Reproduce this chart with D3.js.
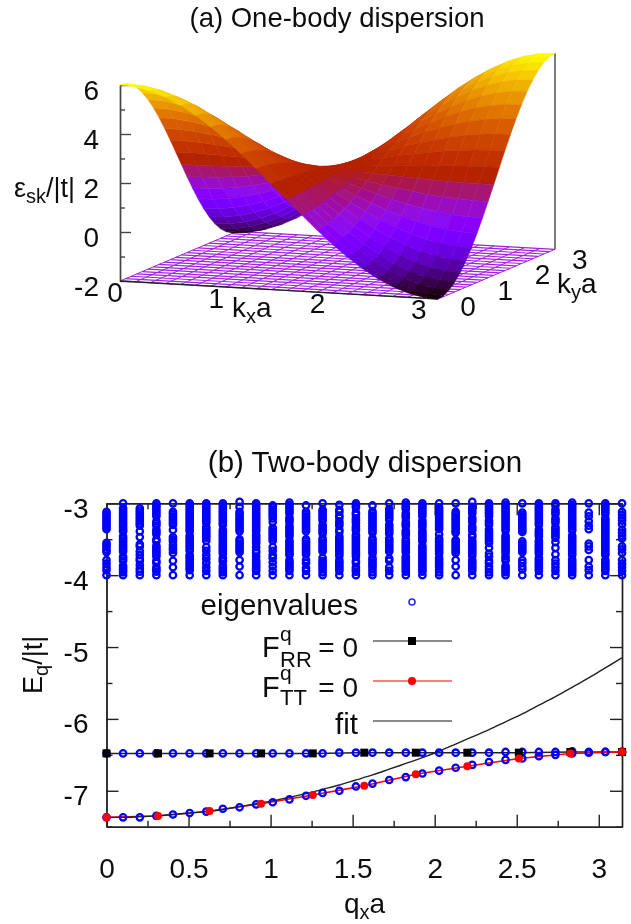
<!DOCTYPE html>
<html>
<head>
<meta charset="utf-8">
<script src="https://cdn.jsdelivr.net/npm/d3@7"></script>
<style>
  html, body { margin: 0; padding: 0; background: #fff; }
  text { font-family: "Liberation Sans", sans-serif; fill: #111; }
</style>
</head>
<body>
<div id="chart"></div>
<script>
// panel (a) data: grid of kx, ky values and the energy at each grid point
var kGrid = [0, 0.15, 0.299, 0.449, 0.598, 0.748, 0.898, 1.047, 1.197, 1.346, 1.496, 1.646, 1.795, 1.945, 2.094, 2.244, 2.394, 2.543, 2.693, 2.843, 2.992, 3.142];
var surfaceZ = [
  [6, 5.96, 5.82, 5.60, 5.30, 4.93, 4.49, 4, 3.46, 2.89, 2.30, 1.70, 1.11, 0.54, 0, -0.49, -0.93, -1.30, -1.60, -1.82, -1.96, -2],
  [5.96, 5.91, 5.78, 5.56, 5.27, 4.90, 4.47, 3.98, 3.45, 2.88, 2.30, 1.70, 1.12, 0.55, 0.02, -0.47, -0.90, -1.27, -1.56, -1.78, -1.91, -1.96],
  [5.82, 5.78, 5.65, 5.44, 5.16, 4.80, 4.38, 3.91, 3.40, 2.85, 2.29, 1.71, 1.15, 0.60, 0.09, -0.38, -0.80, -1.16, -1.44, -1.65, -1.78, -1.82],
  [5.60, 5.56, 5.44, 5.25, 4.98, 4.64, 4.25, 3.80, 3.32, 2.80, 2.27, 1.73, 1.20, 0.68, 0.20, -0.25, -0.64, -0.98, -1.25, -1.44, -1.56, -1.60],
  [5.30, 5.27, 5.16, 4.98, 4.73, 4.42, 4.06, 3.65, 3.21, 2.74, 2.25, 1.75, 1.26, 0.79, 0.35, -0.06, -0.42, -0.73, -0.98, -1.16, -1.27, -1.30],
  [4.93, 4.90, 4.80, 4.64, 4.42, 4.15, 3.83, 3.47, 3.07, 2.65, 2.22, 1.78, 1.35, 0.93, 0.53, 0.17, -0.15, -0.42, -0.64, -0.80, -0.90, -0.93],
  [4.49, 4.47, 4.38, 4.25, 4.06, 3.83, 3.55, 3.25, 2.91, 2.55, 2.19, 1.81, 1.45, 1.09, 0.75, 0.45, 0.17, -0.06, -0.25, -0.38, -0.47, -0.49],
  [4, 3.98, 3.91, 3.80, 3.65, 3.47, 3.25, 3, 2.73, 2.45, 2.15, 1.85, 1.55, 1.27, 1, 0.75, 0.53, 0.35, 0.20, 0.09, 0.02, 0],
  [3.46, 3.45, 3.40, 3.32, 3.21, 3.07, 2.91, 2.73, 2.53, 2.33, 2.11, 1.89, 1.67, 1.47, 1.27, 1.09, 0.93, 0.79, 0.68, 0.60, 0.55, 0.54],
  [2.89, 2.88, 2.85, 2.80, 2.74, 2.65, 2.55, 2.45, 2.33, 2.20, 2.07, 1.93, 1.80, 1.67, 1.55, 1.45, 1.35, 1.26, 1.20, 1.15, 1.12, 1.11],
  [2.30, 2.30, 2.29, 2.27, 2.25, 2.22, 2.19, 2.15, 2.11, 2.07, 2.02, 1.98, 1.93, 1.89, 1.85, 1.81, 1.78, 1.75, 1.73, 1.71, 1.70, 1.70],
  [1.70, 1.70, 1.71, 1.73, 1.75, 1.78, 1.81, 1.85, 1.89, 1.93, 1.98, 2.02, 2.07, 2.11, 2.15, 2.19, 2.22, 2.25, 2.27, 2.29, 2.30, 2.30],
  [1.11, 1.12, 1.15, 1.20, 1.26, 1.35, 1.45, 1.55, 1.67, 1.80, 1.93, 2.07, 2.20, 2.33, 2.45, 2.55, 2.65, 2.74, 2.80, 2.85, 2.88, 2.89],
  [0.54, 0.55, 0.60, 0.68, 0.79, 0.93, 1.09, 1.27, 1.47, 1.67, 1.89, 2.11, 2.33, 2.53, 2.73, 2.91, 3.07, 3.21, 3.32, 3.40, 3.45, 3.46],
  [0, 0.02, 0.09, 0.20, 0.35, 0.53, 0.75, 1, 1.27, 1.55, 1.85, 2.15, 2.45, 2.73, 3, 3.25, 3.47, 3.65, 3.80, 3.91, 3.98, 4],
  [-0.49, -0.47, -0.38, -0.25, -0.06, 0.17, 0.45, 0.75, 1.09, 1.45, 1.81, 2.19, 2.55, 2.91, 3.25, 3.55, 3.83, 4.06, 4.25, 4.38, 4.47, 4.49],
  [-0.93, -0.90, -0.80, -0.64, -0.42, -0.15, 0.17, 0.53, 0.93, 1.35, 1.78, 2.22, 2.65, 3.07, 3.47, 3.83, 4.15, 4.42, 4.64, 4.80, 4.90, 4.93],
  [-1.30, -1.27, -1.16, -0.98, -0.73, -0.42, -0.06, 0.35, 0.79, 1.26, 1.75, 2.25, 2.74, 3.21, 3.65, 4.06, 4.42, 4.73, 4.98, 5.16, 5.27, 5.30],
  [-1.60, -1.56, -1.44, -1.25, -0.98, -0.64, -0.25, 0.20, 0.68, 1.20, 1.73, 2.27, 2.80, 3.32, 3.80, 4.25, 4.64, 4.98, 5.25, 5.44, 5.56, 5.60],
  [-1.82, -1.78, -1.65, -1.44, -1.16, -0.80, -0.38, 0.09, 0.60, 1.15, 1.71, 2.29, 2.85, 3.40, 3.91, 4.38, 4.80, 5.16, 5.44, 5.65, 5.78, 5.82],
  [-1.96, -1.91, -1.78, -1.56, -1.27, -0.90, -0.47, 0.02, 0.55, 1.12, 1.70, 2.30, 2.88, 3.45, 3.98, 4.47, 4.90, 5.27, 5.56, 5.78, 5.91, 5.96],
  [-2, -1.96, -1.82, -1.60, -1.30, -0.93, -0.49, 0, 0.54, 1.11, 1.70, 2.30, 2.89, 3.46, 4, 4.49, 4.93, 5.30, 5.60, 5.82, 5.96, 6]
];
var zMajor = [-2, 0, 2, 4, 6];
var zMinor = [-1, 1, 3, 5];
var kTicks = [0, 1, 2, 3];

// panel (b) data
var eigenQ = [0, 0.101, 0.203, 0.304, 0.405, 0.507, 0.608, 0.709, 0.811, 0.912, 1.013, 1.115, 1.216, 1.317, 1.419, 1.52, 1.621, 1.723, 1.824, 1.925, 2.027, 2.128, 2.229, 2.331, 2.432, 2.534, 2.635, 2.736, 2.838, 2.939, 3.04, 3.142];
var eigenBands = [
  [-3.12,-3.15,-3.18,-3.21,-3.24,-3.27,-3.30,-3.33,-3.36,-3.55,-3.58,-3.61,-3.65,-3.68,-3.79,-3.84,-3.89,-3.93,-4.00],
  [-3.00,-3.07,-3.10,-3.13,-3.16,-3.19,-3.22,-3.25,-3.28,-3.31,-3.34,-3.37,-3.39,-3.46,-3.49,-3.52,-3.55,-3.58,-3.61,-3.64,-3.67,-3.74,-3.77,-3.80,-3.87,-3.90,-3.93,-3.96,-4.00],
  [-3.07,-3.10,-3.13,-3.16,-3.19,-3.22,-3.25,-3.28,-3.31,-3.39,-3.47,-3.57,-3.60,-3.67,-3.72,-3.77,-3.80,-3.86,-3.91,-3.95,-4.00],
  [-3.00,-3.03,-3.06,-3.09,-3.12,-3.15,-3.18,-3.25,-3.28,-3.31,-3.37,-3.40,-3.43,-3.50,-3.53,-3.59,-3.62,-3.65,-3.68,-3.71,-3.74,-3.80,-3.83,-3.89,-3.92,-3.95,-4.00],
  [-3.00,-3.12,-3.15,-3.18,-3.21,-3.24,-3.27,-3.30,-3.37,-3.47,-3.50,-3.53,-3.58,-3.62,-3.65,-3.69,-3.80,-3.89,-4.00],
  [-3.00,-3.03,-3.06,-3.09,-3.12,-3.15,-3.18,-3.21,-3.24,-3.27,-3.30,-3.33,-3.36,-3.39,-3.45,-3.48,-3.51,-3.54,-3.57,-3.60,-3.63,-3.66,-3.72,-3.75,-3.78,-3.81,-3.84,-3.87,-3.90,-3.93,-4.00],
  [-3.00,-3.03,-3.06,-3.09,-3.12,-3.15,-3.18,-3.21,-3.24,-3.27,-3.33,-3.36,-3.39,-3.42,-3.45,-3.48,-3.52,-3.61,-3.66,-3.72,-3.77,-3.83,-3.89,-3.94,-4.00],
  [-3.00,-3.03,-3.06,-3.09,-3.12,-3.15,-3.18,-3.21,-3.24,-3.27,-3.30,-3.37,-3.40,-3.43,-3.46,-3.49,-3.52,-3.55,-3.58,-3.61,-3.64,-3.67,-3.70,-3.76,-3.79,-3.81,-3.87,-3.90,-3.93,-3.96,-4.00],
  [-2.98,-3.05,-3.12,-3.15,-3.18,-3.21,-3.24,-3.27,-3.30,-3.33,-3.36,-3.39,-3.50,-3.53,-3.56,-3.59,-3.62,-3.65,-3.68,-3.79,-3.88,-4.00],
  [-3.00,-3.03,-3.06,-3.09,-3.12,-3.15,-3.18,-3.21,-3.24,-3.27,-3.30,-3.33,-3.36,-3.39,-3.44,-3.47,-3.50,-3.53,-3.56,-3.61,-3.66,-3.69,-3.74,-3.79,-3.82,-3.85,-3.88,-3.91,-3.94,-4.00],
  [-3.03,-3.06,-3.09,-3.12,-3.15,-3.18,-3.21,-3.26,-3.34,-3.37,-3.40,-3.43,-3.46,-3.49,-3.52,-3.61,-3.66,-3.72,-3.76,-3.82,-3.88,-3.94,-4.00],
  [-2.99,-3.02,-3.05,-3.08,-3.11,-3.14,-3.20,-3.23,-3.26,-3.31,-3.34,-3.37,-3.40,-3.43,-3.46,-3.52,-3.55,-3.58,-3.61,-3.64,-3.67,-3.70,-3.72,-3.79,-3.82,-3.85,-3.88,-3.91,-3.94,-4.00],
  [-3.03,-3.12,-3.15,-3.18,-3.21,-3.24,-3.27,-3.30,-3.33,-3.36,-3.39,-3.50,-3.53,-3.56,-3.59,-3.62,-3.65,-3.68,-3.71,-3.79,-3.83,-3.90,-3.94,-4.00],
  [-3.00,-3.09,-3.12,-3.15,-3.18,-3.21,-3.24,-3.30,-3.33,-3.36,-3.39,-3.42,-3.49,-3.52,-3.55,-3.58,-3.61,-3.64,-3.67,-3.76,-3.80,-3.83,-3.86,-3.89,-3.92,-3.96,-4.00],
  [-3.02,-3.09,-3.12,-3.17,-3.20,-3.25,-3.28,-3.31,-3.37,-3.40,-3.46,-3.49,-3.52,-3.55,-3.58,-3.61,-3.64,-3.67,-3.70,-3.73,-3.79,-3.82,-3.85,-3.88,-3.91,-3.94,-4.00],
  [-3.00,-3.03,-3.06,-3.13,-3.16,-3.21,-3.24,-3.27,-3.32,-3.35,-3.38,-3.44,-3.47,-3.50,-3.53,-3.56,-3.59,-3.62,-3.65,-3.68,-3.71,-3.74,-3.80,-3.83,-3.89,-3.92,-3.95,-4.00],
  [-3.03,-3.11,-3.14,-3.17,-3.20,-3.23,-3.26,-3.29,-3.32,-3.35,-3.38,-3.41,-3.49,-3.52,-3.55,-3.58,-3.61,-3.64,-3.67,-3.70,-3.76,-3.79,-3.82,-3.85,-3.88,-3.92,-3.96,-4.00],
  [-3.00,-3.08,-3.11,-3.14,-3.17,-3.20,-3.23,-3.30,-3.33,-3.36,-3.39,-3.42,-3.49,-3.52,-3.55,-3.58,-3.61,-3.64,-3.67,-3.77,-3.80,-3.89,-3.94,-4.00],
  [-2.99,-3.02,-3.05,-3.08,-3.14,-3.17,-3.20,-3.26,-3.29,-3.32,-3.38,-3.41,-3.44,-3.50,-3.53,-3.56,-3.59,-3.62,-3.65,-3.68,-3.74,-3.77,-3.80,-3.83,-3.86,-3.89,-3.92,-3.95,-4.00],
  [-3.00,-3.03,-3.06,-3.09,-3.12,-3.15,-3.18,-3.24,-3.27,-3.30,-3.33,-3.38,-3.41,-3.44,-3.47,-3.50,-3.53,-3.59,-3.62,-3.65,-3.68,-3.71,-3.74,-3.77,-3.80,-3.83,-3.86,-3.89,-3.92,-3.95,-4.00],
  [-3.00,-3.06,-3.09,-3.12,-3.15,-3.18,-3.21,-3.24,-3.27,-3.30,-3.33,-3.36,-3.43,-3.49,-3.52,-3.55,-3.58,-3.61,-3.64,-3.67,-3.70,-3.76,-3.79,-3.82,-3.85,-3.88,-3.92,-3.96,-4.00],
  [-3.00,-3.12,-3.15,-3.18,-3.21,-3.24,-3.27,-3.30,-3.33,-3.36,-3.39,-3.41,-3.51,-3.54,-3.57,-3.60,-3.63,-3.66,-3.69,-3.79,-3.88,-4.00],
  [-2.98,-3.05,-3.08,-3.11,-3.14,-3.20,-3.23,-3.26,-3.32,-3.35,-3.38,-3.44,-3.47,-3.52,-3.55,-3.58,-3.61,-3.64,-3.67,-3.70,-3.73,-3.79,-3.82,-3.85,-3.88,-3.91,-3.94,-4.00],
  [-3.00,-3.03,-3.06,-3.09,-3.12,-3.15,-3.18,-3.24,-3.27,-3.30,-3.37,-3.40,-3.43,-3.46,-3.49,-3.52,-3.55,-3.62,-3.70,-3.74,-3.80,-3.83,-3.88,-3.92,-3.96,-4.00],
  [-2.99,-3.02,-3.05,-3.08,-3.11,-3.14,-3.17,-3.20,-3.23,-3.26,-3.29,-3.32,-3.35,-3.38,-3.45,-3.48,-3.51,-3.54,-3.57,-3.60,-3.63,-3.66,-3.69,-3.74,-3.77,-3.80,-3.87,-3.90,-3.93,-3.96,-4.00],
  [-3.00,-3.13,-3.16,-3.19,-3.22,-3.25,-3.28,-3.31,-3.34,-3.37,-3.40,-3.53,-3.56,-3.59,-3.62,-3.65,-3.68,-3.79,-3.83,-3.88,-3.92,-4.00],
  [-3.00,-3.03,-3.06,-3.09,-3.12,-3.15,-3.18,-3.21,-3.24,-3.27,-3.30,-3.37,-3.40,-3.43,-3.46,-3.52,-3.55,-3.58,-3.61,-3.64,-3.67,-3.70,-3.76,-3.79,-3.82,-3.85,-3.88,-3.91,-3.94,-4.00],
  [-3.00,-3.03,-3.09,-3.12,-3.15,-3.21,-3.24,-3.27,-3.33,-3.36,-3.39,-3.42,-3.45,-3.48,-3.54,-3.62,-3.71,-3.79,-3.84,-3.89,-3.94,-4.00],
  [-2.99,-3.02,-3.05,-3.08,-3.11,-3.14,-3.17,-3.20,-3.23,-3.26,-3.29,-3.32,-3.35,-3.38,-3.45,-3.48,-3.51,-3.54,-3.57,-3.60,-3.63,-3.66,-3.69,-3.72,-3.78,-3.81,-3.84,-3.87,-3.90,-3.93,-3.96,-4.00],
  [-3.00,-3.13,-3.18,-3.25,-3.31,-3.36,-3.56,-3.60,-3.65,-3.79,-3.88,-3.93,-4.00],
  [-3.00,-3.03,-3.06,-3.09,-3.12,-3.15,-3.21,-3.24,-3.27,-3.30,-3.33,-3.36,-3.39,-3.42,-3.45,-3.48,-3.51,-3.54,-3.57,-3.60,-3.63,-3.66,-3.69,-3.72,-3.79,-3.82,-3.85,-3.88,-3.91,-3.94,-4.00],
  [-3.00,-3.12,-3.16,-3.20,-3.24,-3.29,-3.37,-3.41,-3.45,-3.49,-3.60,-3.64,-3.69,-3.79,-3.84,-3.89,-3.94,-4.00]
];
var upperEigen = [-6.48, -6.48, -6.48, -6.48, -6.48, -6.48, -6.48, -6.48, -6.48, -6.48, -6.48, -6.48, -6.48, -6.48, -6.47, -6.47, -6.47, -6.47, -6.47, -6.47, -6.47, -6.47, -6.47, -6.47, -6.46, -6.46, -6.46, -6.46, -6.45, -6.46, -6.46, -6.46];
var lowerEigen = [-7.37, -7.37, -7.37, -7.35, -7.33, -7.31, -7.29, -7.25, -7.23, -7.19, -7.16, -7.12, -7.07, -7.03, -7.00, -6.94, -6.90, -6.85, -6.81, -6.76, -6.72, -6.68, -6.64, -6.60, -6.57, -6.55, -6.52, -6.50, -6.48, -6.47, -6.46, -6.46];
var lineQ = [0, 0.314, 0.628, 0.942, 1.257, 1.571, 1.885, 2.199, 2.513, 2.827, 3.142];
var rrValues = [-6.48, -6.48, -6.48, -6.48, -6.48, -6.47, -6.47, -6.47, -6.47, -6.46, -6.46];
var ttValues = [-7.37, -7.35, -7.28, -7.18, -7.06, -6.93, -6.77, -6.66, -6.55, -6.48, -6.46];
var fitValues = [-7.37, -7.37, -7.36, -7.35, -7.33, -7.31, -7.29, -7.26, -7.22, -7.18, -7.14, -7.09, -7.04, -6.98, -6.92, -6.85, -6.78, -6.70, -6.62, -6.54, -6.45, -6.35, -6.25, -6.15, -6.04, -5.93, -5.81, -5.69, -5.56, -5.43, -5.29, -5.15];
var yMajor = [-3, -4, -5, -6, -7];
var yMinor = [-3.5, -4.5, -5.5, -6.5, -7.5];
var xMajor = [0, 0.5, 1, 1.5, 2, 2.5, 3];
var xMinor = [0.25, 0.75, 1.25, 1.75, 2.25, 2.75];

var width = 631, height = 924;
var svg = d3.select('#chart').append('svg')
    .attr('width', width)
    .attr('height', height)
    .style('display', 'block');

// the reference is a slightly soft raster
svg.append('defs').append('filter').attr('id', 'soft')
    .append('feGaussianBlur').attr('stdDeviation', 0.5);
var root = svg.append('g').attr('filter', 'url(#soft)');

// adds a text with sub/superscript pieces: parts = [[string, size, baselineShift], ...]
function richText(parent, x, y, parts, anchor) {
    var t = parent.append('text')
        .attr('x', x)
        .attr('y', y)
        .attr('text-anchor', anchor || 'start');
    var shift = 0;
    parts.forEach(function(p) {
        t.append('tspan')
            .attr('font-size', p[1])
            .attr('dy', p[2] - shift)
            .text(p[0]);
        shift = p[2];
    });
    return t;
}

function label(parent, x, y, str, size, anchor) {
    return parent.append('text')
        .attr('x', x)
        .attr('y', y)
        .attr('font-size', size)
        .attr('text-anchor', anchor || 'middle')
        .text(str);
}

// ---------- (a) one-body dispersion ----------
var a = root.append('g');
var A = [120, 281], B = [438, 299], C = [555, 249.3];

// oblique projection of the box, one scale per direction
var kxX = d3.scaleLinear().domain([0, Math.PI]).range([0, B[0] - A[0]]);
var kxY = d3.scaleLinear().domain([0, Math.PI]).range([0, B[1] - A[1]]);
var kyX = d3.scaleLinear().domain([0, Math.PI]).range([0, C[0] - B[0]]);
var kyY = d3.scaleLinear().domain([0, Math.PI]).range([0, C[1] - B[1]]);
var zScale = d3.scaleLinear().domain([-2, 6]).range([0, -196]);

function project(kx, ky, z) {
    return [A[0] + kxX(kx) + kyX(ky), A[1] + kxY(kx) + kyY(ky) + zScale(z)];
}

// gnuplot default pm3d palette (7,5,15)
function palette(z) {
    var g = (z + 2) / 8;
    var r = Math.sqrt(g), gr = g * g * g, b = Math.max(0, Math.sin(2 * Math.PI * g));
    return d3.rgb(r * 255, gr * 255, b * 255).formatHex();
}

// floor of the box
var baseLines = [];
kGrid.forEach(function(k) {
    baseLines.push({ p: [project(k, 0, -2), project(k, Math.PI, -2)], w: 1 });
    baseLines.push({ p: [project(0, k, -2), project(Math.PI, k, -2)], w: 1.2 });
});
a.append('g').selectAll('line')
    .data(baseLines)
    .enter()
    .append('line')
    .attr('x1', function(d) { return d.p[0][0]; })
    .attr('y1', function(d) { return d.p[0][1]; })
    .attr('x2', function(d) { return d.p[1][0]; })
    .attr('y2', function(d) { return d.p[1][1]; })
    .attr('stroke', '#a020e0')
    .attr('stroke-width', function(d) { return d.w; });

// z axis
var zAxisScale = d3.scaleLinear().domain([-2, 6]).range([A[1], A[1] - 196]);
var zAxisG = a.append('g').attr('transform', 'translate(' + A[0] + ',0)');
zAxisG.call(d3.axisLeft(zAxisScale).tickValues(zMajor).tickSizeInner(-11).tickSizeOuter(0).tickPadding(21).tickFormat(String));
var zMinorG = a.append('g').attr('transform', 'translate(' + A[0] + ',0)');
zMinorG.call(d3.axisLeft(zAxisScale).tickValues(zMinor).tickSizeInner(-5).tickSizeOuter(0).tickFormat(''));
[zAxisG, zMinorG].forEach(function(g) {
    g.selectAll('line,path').attr('stroke', '#444').attr('stroke-width', 1.4);
});
zAxisG.selectAll('text')
    .attr('font-size', 28)
    .attr('font-family', '"Liberation Sans", sans-serif')
    .attr('dy', '0.52em');

// back right corner post and front edge
a.append('line')
    .attr('x1', C[0]).attr('y1', C[1])
    .attr('x2', C[0]).attr('y2', C[1] - 196)
    .attr('stroke', '#444').attr('stroke-width', 1.4);
a.append('line')
    .attr('x1', A[0]).attr('y1', A[1])
    .attr('x2', B[0]).attr('y2', B[1])
    .attr('stroke', '#222').attr('stroke-width', 1.4);

// surface cells, far ky rows first and left to right inside a row
var cells = [];
for (var j = kGrid.length - 2; j >= 0; j--) {
    for (var i = 0; i < kGrid.length - 1; i++) {
        var zMean = (surfaceZ[i][j] + surfaceZ[i + 1][j] + surfaceZ[i + 1][j + 1] + surfaceZ[i][j + 1]) / 4;
        cells.push({
            pts: [
                project(kGrid[i], kGrid[j], surfaceZ[i][j]),
                project(kGrid[i + 1], kGrid[j], surfaceZ[i + 1][j]),
                project(kGrid[i + 1], kGrid[j + 1], surfaceZ[i + 1][j + 1]),
                project(kGrid[i], kGrid[j + 1], surfaceZ[i][j + 1])
            ],
            z: zMean
        });
    }
}
a.append('g').selectAll('polygon')
    .data(cells)
    .enter()
    .append('polygon')
    .attr('points', function(d) { return d.pts.map(function(p) { return p.join(','); }).join(' '); })
    .attr('fill', function(d) { return palette(d.z); })
    .attr('stroke', function(d) { return palette(d.z); })
    .attr('stroke-width', 0.5);

// box labels
kTicks.forEach(function(k) {
    var p = project(k, 0, -2);
    label(a, p[0] - 5, p[1] + 21, String(k), 28);
    var q = project(Math.PI, k, -2);
    label(a, q[0] + 30, q[1] + 17, String(k), 28);
});
label(a, 337, 27, '(a) One-body dispersion', 27.5);
richText(a, 232, 317, [['k', 28, 0], ['x', 20, 6], ['a', 28, 0]]);
richText(a, 557, 293, [['k', 28, 0], ['y', 20, 6], ['a', 28, 0]]);
richText(a, 14, 197, [['ε', 27, 0], ['sk', 20, 6], ['/|t|', 27, 0]]);

// ---------- (b) two-body dispersion ----------
var b = root.append('g');
var x = d3.scaleLinear().domain([0, Math.PI]).range([106.5, 622]);
var y = d3.scaleLinear().domain([-7.5, -3]).range([826.7, 503.3]);

var xAxisB = b.append('g').attr('transform', 'translate(0,' + y(-7.5) + ')');
xAxisB.call(d3.axisBottom(x).tickValues(xMajor).tickSizeInner(-12).tickSizeOuter(0).tickPadding(41).tickFormat(String));
xAxisB.selectAll('text').attr('font-size', 28).attr('font-family', '"Liberation Sans", sans-serif').attr('dy', '0.36em');
var yAxisB = b.append('g').attr('transform', 'translate(' + x(0) + ',0)');
yAxisB.call(d3.axisLeft(y).tickValues(yMajor).tickSizeInner(-12).tickSizeOuter(0).tickPadding(18).tickFormat(String));
yAxisB.selectAll('text').attr('font-size', 28).attr('font-family', '"Liberation Sans", sans-serif').attr('dy', '0.5em');

var frameParts = [
    [d3.axisBottom(x).tickValues(xMinor).tickSizeInner(-6).tickSizeOuter(0).tickFormat(''), 0, y(-7.5)],
    [d3.axisTop(x).tickValues(xMajor).tickSizeInner(-12).tickSizeOuter(0).tickFormat(''), 0, y(-3)],
    [d3.axisTop(x).tickValues(xMinor).tickSizeInner(-6).tickSizeOuter(0).tickFormat(''), 0, y(-3)],
    [d3.axisLeft(y).tickValues(yMinor).tickSizeInner(-6).tickSizeOuter(0).tickFormat(''), x(0), 0],
    [d3.axisRight(y).tickValues(yMajor).tickSizeInner(-12).tickSizeOuter(0).tickFormat(''), x(Math.PI), 0],
    [d3.axisRight(y).tickValues(yMinor).tickSizeInner(-6).tickSizeOuter(0).tickFormat(''), x(Math.PI), 0]
];
frameParts.forEach(function(f) {
    b.append('g').attr('class', 'frame').attr('transform', 'translate(' + f[1] + ',' + f[2] + ')').call(f[0]);
});
b.selectAll('line,path').attr('stroke', '#222').attr('stroke-width', 1.4);

var blueRings = [];
eigenBands.forEach(function(col, c) {
    col.forEach(function(v) { blueRings.push([eigenQ[c], v]); });
    blueRings.push([eigenQ[c], upperEigen[c]]);
    blueRings.push([eigenQ[c], lowerEigen[c]]);
});

var rrData = lineQ.map(function(q, n) { return [q, rrValues[n]]; });
var ttData = lineQ.map(function(q, n) { return [q, ttValues[n]]; });
var fitData = eigenQ.map(function(q, n) { return [q, fitValues[n]]; });
var lineGen = d3.line().x(function(d) { return x(d[0]); }).y(function(d) { return y(d[1]); });

b.append('path').attr('d', lineGen(rrData)).attr('fill', 'none').attr('stroke', '#222').attr('stroke-width', 1.5);
b.append('path').attr('d', lineGen(ttData)).attr('fill', 'none').attr('stroke', '#f00').attr('stroke-width', 1.5);
b.append('path').attr('d', lineGen.curve(d3.curveMonotoneX)(fitData)).attr('fill', 'none').attr('stroke', '#222').attr('stroke-width', 1.4);

b.append('g').selectAll('circle')
    .data(blueRings)
    .enter()
    .append('circle')
    .attr('cx', function(d) { return x(d[0]); })
    .attr('cy', function(d) { return y(d[1]); })
    .attr('r', 3.2)
    .attr('fill', 'none')
    .attr('stroke', '#0000ff')
    .attr('stroke-width', 2.3);

b.append('g').selectAll('rect')
    .data(rrData)
    .enter()
    .append('rect')
    .attr('x', function(d) { return x(d[0]) - 4; })
    .attr('y', function(d) { return y(d[1]) - 4; })
    .attr('width', 8)
    .attr('height', 8)
    .attr('fill', '#000');

b.append('g').selectAll('circle.tt')
    .data(ttData)
    .enter()
    .append('circle')
    .attr('class', 'tt')
    .attr('cx', function(d) { return x(d[0]); })
    .attr('cy', function(d) { return y(d[1]); })
    .attr('r', 4)
    .attr('fill', '#f00');

// titles and axis names
label(b, 365, 472, '(b) Two-body dispersion', 29.5);
richText(b, 344, 913, [['q', 28, 0], ['x', 20, 6], ['a', 28, 0]]);
richText(b, 0, 0, [['E', 27, 0], ['q', 20, 6], ['/|t|', 27, 0]])
    .attr('transform', 'translate(42,694) rotate(-90)');

// legend
label(b, 358, 615, 'eigenvalues', 29.5, 'end');
b.append('circle').attr('cx', 412).attr('cy', 602).attr('r', 3).attr('fill', 'none').attr('stroke', '#2a2aff').attr('stroke-width', 1.6);

label(b, 262, 657, 'F', 29, 'start');
label(b, 280, 641, 'q', 21, 'start');
label(b, 280, 667, 'RR', 22, 'start');
label(b, 358, 657, '= 0', 28, 'end');
b.append('line').attr('x1', 373).attr('x2', 452).attr('y1', 641).attr('y2', 641).attr('stroke', '#111').attr('stroke-width', 1.2);
b.append('rect').attr('x', 408).attr('y', 637).attr('width', 8).attr('height', 8).attr('fill', '#000');

label(b, 262, 697, 'F', 29, 'start');
label(b, 280, 680, 'q', 21, 'start');
label(b, 280, 705, 'TT', 22, 'start');
label(b, 358, 697, '= 0', 28, 'end');
b.append('line').attr('x1', 373).attr('x2', 452).attr('y1', 681).attr('y2', 681).attr('stroke', '#f00').attr('stroke-width', 1.2);
b.append('circle').attr('cx', 412).attr('cy', 681).attr('r', 4).attr('fill', '#f00');

label(b, 358, 734, 'fit', 29.5, 'end');
b.append('line').attr('x1', 373).attr('x2', 452).attr('y1', 721).attr('y2', 721).attr('stroke', '#111').attr('stroke-width', 1.2);
</script>
</body>
</html>
